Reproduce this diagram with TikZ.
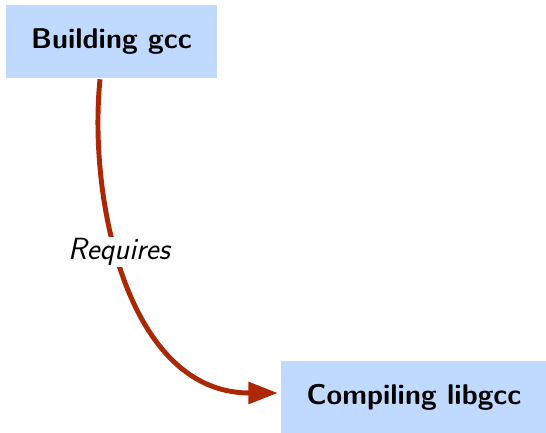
\documentclass[tikz,border=0pt]{standalone}
\usetikzlibrary{arrows.meta,calc}
\definecolor{boxblue}{RGB}{192,218,255}
\definecolor{arrred}{RGB}{172,40,4}
\begin{document}
\begin{tikzpicture}[x=0.75pt,y=-0.75pt,
  box/.style={fill=boxblue,inner sep=0pt,font=\sffamily\bfseries\fontsize{21.4}{25}\selectfont},
  rel/.style={draw=arrred,line width=3.7pt,-{Triangle[length=22pt,width=16pt]}},
  lbl/.style={fill=white,inner sep=1pt,font=\sffamily\itshape\fontsize{23}{27}\selectfont}]
\useasboundingbox (0,0) rectangle (546,432);
\node[box,minimum width=158.25pt,minimum height=54.75pt] (a) at (111.5,41.5) {Building gcc};
\node[box,minimum width=199.5pt,minimum height=54pt] (b) at (414,397) {Compiling libgcc};
\coordinate (s) at ($(a.south)+(-11.5,1)$);
\coordinate (t) at ($(b.west)+(-3,-4)$);
\draw[rel] (s) .. controls ($(s)+(-12,121)$) and ($(t)+(-150,0)$) .. (t);
\node[lbl] (r) at (119,252) {Requires};
\end{tikzpicture}
\end{document}
